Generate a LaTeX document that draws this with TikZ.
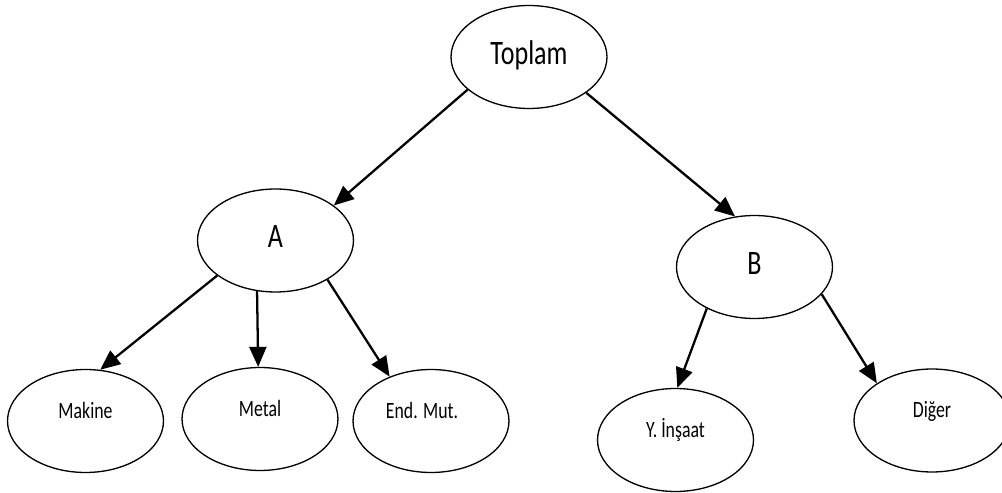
\documentclass[tikz,border=0pt]{standalone}
\usepackage{fontspec}
\setmainfont[FakeStretch=0.76]{Carlito}
\usetikzlibrary{shapes.geometric,arrows.meta}

\begin{document}
\begin{tikzpicture}  % ------ Toplam, A et B -------
      [x={(0.02cm,0cm)},y={(0cm,-0.02cm)}, line width=0.75pt,
       oval/.style={draw, ellipse, minimum width=3.12cm, minimum height=2.06cm, inner sep=0pt},
       grandoval/.style={oval, font=\fontsize{19.5}{19.5}\selectfont, text height=0.45cm, text depth=0.15cm},
       petitoval/.style={oval, font=\fontsize{13.3}{13.3}\selectfont, text height=0.3cm, text depth=0.41cm},
       fleche/.style={-{Triangle[length=0.4cm,width=0.34cm]}, line width=1.3pt}]

    \useasboundingbox (0,0) rectangle (1002,493);

    \node[grandoval] (T) at (529,57) {Toplam};
    \node[grandoval] (A) at (275.5,240.5) {A};
    \node[grandoval] (B) at (754.5,267) {B};

    \node[petitoval] (Mak) at (85.5,421) {Makine};
    \node[petitoval] (Met) at (260,419) {Metal};
    \node[petitoval] (End) at (431,421) {End. Mut.\hspace*{0.36cm}};
    \node[petitoval] (Ins) at (675.5,440) {Y. İnşaat};
    \node[petitoval] (Dig) at (932,420.5) {Diğer};

    \draw[fleche] (T.208) -- (A.31);
    \draw[fleche] (T.328) -- (B.111);  % vers B
    \draw[fleche] (A.211) -- (Mak.74);
    \draw[fleche] (A.250) -- (Met.92);
    \draw[fleche] (A.323) -- (End.133);
    \draw[fleche] (B.221) -- (Ins.88);
    \draw[fleche] (B.338) -- (Dig.146);
\end{tikzpicture}
\end{document}
